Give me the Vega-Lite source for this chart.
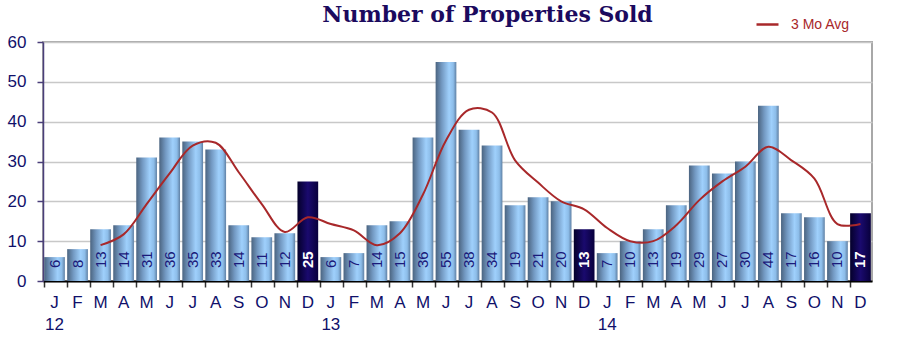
{
  "$schema": "https://vega.github.io/schema/vega-lite/v6.json",
  "width": 829,
  "height": 239,
  "autosize": {"type": "none"},
  "padding": {"left": 43, "top": 42, "right": 30, "bottom": 77},
  "background": "white",
  "title": {
    "text": "Number of Properties Sold",
    "font": "DejaVu Serif",
    "fontWeight": "bold",
    "fontSize": 22,
    "color": "#1b0a5e",
    "anchor": "middle",
    "dx": 30,
    "offset": -15
  },
  "config": {
    "view": {"stroke": "#a8a8a8", "strokeWidth": 2},
    "font": "Liberation Sans",
    "axisY": {"tickCount": 7}
  },
  "data": {
    "values": [
      {"m": "2012-01", "v": 6, "avg": null},
      {"m": "2012-02", "v": 8, "avg": null},
      {"m": "2012-03", "v": 13, "avg": 9.0},
      {"m": "2012-04", "v": 14, "avg": 11.7},
      {"m": "2012-05", "v": 31, "avg": 19.3},
      {"m": "2012-06", "v": 36, "avg": 27.0},
      {"m": "2012-07", "v": 35, "avg": 34.0},
      {"m": "2012-08", "v": 33, "avg": 34.7},
      {"m": "2012-09", "v": 14, "avg": 27.3},
      {"m": "2012-10", "v": 11, "avg": 19.3},
      {"m": "2012-11", "v": 12, "avg": 12.3},
      {"m": "2012-12", "v": 25, "avg": 16.0},
      {"m": "2013-01", "v": 6, "avg": 14.3},
      {"m": "2013-02", "v": 7, "avg": 12.7},
      {"m": "2013-03", "v": 14, "avg": 9.0},
      {"m": "2013-04", "v": 15, "avg": 12.0},
      {"m": "2013-05", "v": 36, "avg": 21.7},
      {"m": "2013-06", "v": 55, "avg": 35.3},
      {"m": "2013-07", "v": 38, "avg": 43.0},
      {"m": "2013-08", "v": 34, "avg": 42.3},
      {"m": "2013-09", "v": 19, "avg": 30.3},
      {"m": "2013-10", "v": 21, "avg": 24.7},
      {"m": "2013-11", "v": 20, "avg": 20.0},
      {"m": "2013-12", "v": 13, "avg": 18.0},
      {"m": "2014-01", "v": 7, "avg": 13.3},
      {"m": "2014-02", "v": 10, "avg": 10.0},
      {"m": "2014-03", "v": 13, "avg": 10.0},
      {"m": "2014-04", "v": 19, "avg": 14.0},
      {"m": "2014-05", "v": 29, "avg": 20.3},
      {"m": "2014-06", "v": 27, "avg": 25.0},
      {"m": "2014-07", "v": 30, "avg": 28.7},
      {"m": "2014-08", "v": 44, "avg": 33.7},
      {"m": "2014-09", "v": 17, "avg": 30.3},
      {"m": "2014-10", "v": 16, "avg": 25.7},
      {"m": "2014-11", "v": 10, "avg": 14.3},
      {"m": "2014-12", "v": 17, "avg": 14.3}
    ]
  },
  "encoding": {
    "x": {
      "field": "m",
      "type": "ordinal",
      "sort": "ascending",
      "title": null,
      "scale": {"paddingInner": 0.1, "paddingOuter": 0.05},
      "axis": {
        "labelAngle": 0,
        "labelExpr": "[['J','F','M','A','M','J','J','A','S','O','N','D'][toNumber(slice(datum.value,5,7))-1], slice(datum.value,5,7)=='01' ? slice(datum.value,2,4) : '']",
        "labelFontSize": 17,
        "labelColor": "#10106a",
        "labelLineHeight": 22,
        "labelPadding": 7,
        "bandPosition": 0,
        "tickSize": 6,
        "tickColor": "#333333",
        "tickWidth": 1.5,
        "domainColor": "#000000",
        "domainWidth": 2,
        "grid": false
      }
    }
  },
  "layer": [
    {
      "transform": [{"filter": "slice(datum.m,5,7)!='12'"}],
      "mark": {
        "type": "bar",
        "color": {
          "gradient": "linear",
          "x1": 0, "x2": 1, "y1": 0, "y2": 0,
          "stops": [
            {"offset": 0, "color": "#4b6480"},
            {"offset": 0.3, "color": "#7399c2"},
            {"offset": 0.65, "color": "#9fd0fc"},
            {"offset": 0.85, "color": "#8dbde9"},
            {"offset": 1, "color": "#5f80a4"}
          ]
        }
      },
      "encoding": {
        "y": {
          "field": "v",
          "type": "quantitative",
          "title": null,
          "scale": {"domain": [0, 60], "nice": false},
          "axis": {
            "values": [0, 10, 20, 30, 40, 50, 60],
            "tickCount": 7,
            "labelOverlap": false,
            "labelFontSize": 17,
            "labelColor": "#10106a",
            "labelPadding": 11,
            "tickSize": 6,
            "tickColor": "#4a3f7a",
            "tickWidth": 1.5,
            "domainColor": "#4a3f7a",
            "domainWidth": 1.5,
            "gridColor": "#c8c8c8",
            "gridWidth": 1.5
          }
        }
      }
    },
    {
      "transform": [{"filter": "slice(datum.m,5,7)=='12'"}],
      "mark": {
        "type": "bar",
        "color": {
          "gradient": "linear",
          "x1": 0, "x2": 1, "y1": 0, "y2": 0,
          "stops": [
            {"offset": 0, "color": "#04002a"},
            {"offset": 0.5, "color": "#1a0a6e"},
            {"offset": 1, "color": "#08003c"}
          ]
        }
      },
      "encoding": {
        "y": {
          "field": "v",
          "type": "quantitative",
          "title": null,
          "axis": {
            "values": [0, 10, 20, 30, 40, 50, 60],
            "tickCount": 7,
            "labelOverlap": false,
            "labelFontSize": 17,
            "labelColor": "#10106a",
            "labelPadding": 11,
            "tickSize": 6,
            "tickColor": "#4a3f7a",
            "tickWidth": 1.5,
            "domainColor": "#4a3f7a",
            "domainWidth": 1.5,
            "gridColor": "#c8c8c8",
            "gridWidth": 1.5
          }
        }
      }
    },
    {
      "transform": [{"filter": "slice(datum.m,5,7)!='12'"}],
      "mark": {"type": "text", "angle": 270, "align": "left", "baseline": "middle", "dx": 13, "fontSize": 15, "color": "#1a1a7a"},
      "encoding": {
        "y": {"datum": 0, "type": "quantitative"},
        "text": {"field": "v", "type": "quantitative"}
      }
    },
    {
      "transform": [{"filter": "slice(datum.m,5,7)=='12'"}],
      "mark": {"type": "text", "angle": 270, "align": "left", "baseline": "middle", "dx": 13, "fontSize": 15, "fontWeight": "bold", "color": "#ffffff"},
      "encoding": {
        "y": {"datum": 0, "type": "quantitative"},
        "text": {"field": "v", "type": "quantitative"}
      }
    },
    {
      "mark": {"type": "line", "interpolate": "catmull-rom", "strokeWidth": 2},
      "encoding": {
        "y": {
          "field": "avg",
          "type": "quantitative",
          "title": null,
          "axis": {
            "values": [0, 10, 20, 30, 40, 50, 60],
            "tickCount": 7,
            "labelOverlap": false,
            "labelFontSize": 17,
            "labelColor": "#10106a",
            "labelPadding": 11,
            "tickSize": 6,
            "tickColor": "#4a3f7a",
            "tickWidth": 1.5,
            "domainColor": "#4a3f7a",
            "domainWidth": 1.5,
            "gridColor": "#c8c8c8",
            "gridWidth": 1.5
          }
        },
        "color": {
          "datum": "3 Mo Avg",
          "type": "nominal",
          "scale": {"range": ["#a8282a"]},
          "legend": {
            "title": null,
            "orient": "none",
            "legendX": 712,
            "legendY": -30,
            "padding": 0,
            "symbolType": "stroke",
            "symbolSize": 484,
            "symbolStrokeWidth": 2.5,
            "labelFontSize": 14,
            "labelColor": "#a8282a",
            "labelOffset": 11
          }
        }
      }
    }
  ]
}
